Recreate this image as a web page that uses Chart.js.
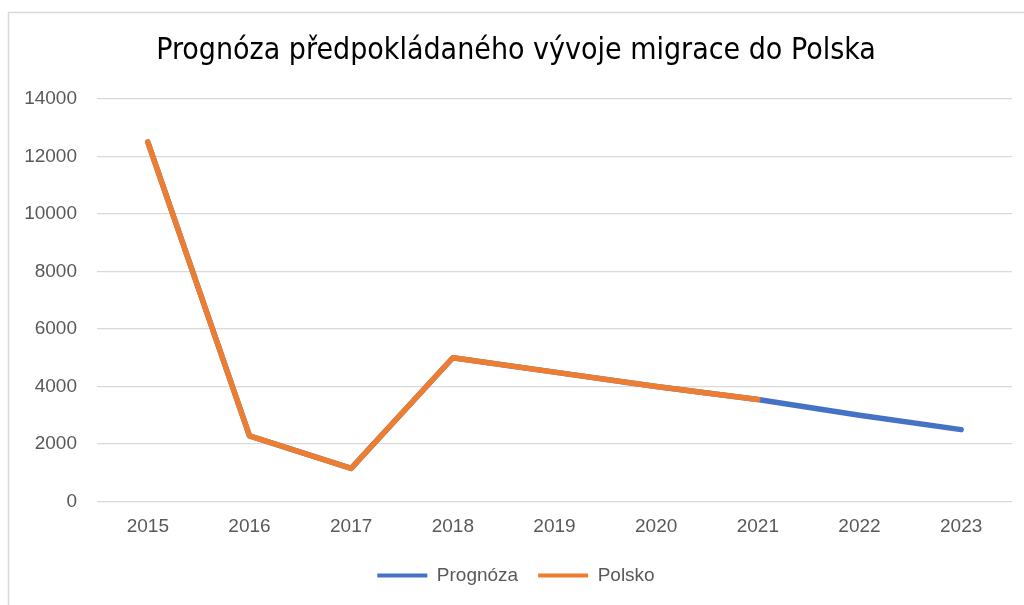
<!DOCTYPE html>
<html>
<head>
<meta charset="utf-8">
<script src="https://cdn.jsdelivr.net/npm/chart.js@4"></script>
<style>
  html, body { margin: 0; padding: 0; background: #ffffff; }
  #wrap { width: 1024px; height: 605px; position: relative; }
  canvas { display: block; }
</style>
</head>
<body>
<div id="wrap"><canvas id="c" width="1024" height="605"></canvas></div>
<script>
const titleText = 'Prognóza předpokládaného vývoje migrace do Polska';
const years = ['2015', '2016', '2017', '2018', '2019', '2020', '2021', '2022', '2023'];
const prognozaValues = [12500, 2280, 1150, 5000, 4500, 4000, 3550, 3000, 2500];
const polskoValues = [12500, 2280, 1150, 5000, 4500, 4000, 3550];
const yTicks = [0, 2000, 4000, 6000, 8000, 10000, 12000, 14000];
const seriesNames = ['Prognóza', 'Polsko'];

const frame = {
  id: 'frame',
  beforeDraw(chart) {
    const ctx = chart.ctx;
    ctx.save();
    ctx.fillStyle = '#ffffff';
    ctx.fillRect(0, 0, chart.width, chart.height);
    ctx.strokeStyle = '#d9d9d9';
    ctx.lineWidth = 1.5;
    ctx.strokeRect(8.5, 12.5, chart.width + 20, chart.height + 20);
    ctx.restore();
  }
};

const FONT = "'Liberation Sans', 'Open Sans', sans-serif";

new Chart(document.getElementById('c'), {
  type: 'line',
  data: {
    labels: years,
    datasets: [
      {
        label: seriesNames[0],
        data: prognozaValues,
        borderColor: '#4472C4',
        backgroundColor: '#4472C4',
        borderWidth: 5.5,
        pointRadius: 0,
        borderJoinStyle: 'round',
        borderCapStyle: 'round',
        tension: 0,
        order: 1
      },
      {
        label: seriesNames[1],
        data: polskoValues,
        borderColor: '#ED7D31',
        backgroundColor: '#ED7D31',
        borderWidth: 5.5,
        pointRadius: 0,
        borderJoinStyle: 'round',
        borderCapStyle: 'round',
        tension: 0,
        order: 0
      }
    ]
  },
  options: {
    responsive: false,
    animation: false,
    devicePixelRatio: 1,
    layout: { padding: { top: 12, left: 20, right: 12, bottom: 10 } },
    plugins: {
      title: {
        display: true,
        text: titleText,
        color: '#000000',
        font: { family: "'DejaVu Sans Condensed', 'DejaVu Sans', sans-serif", size: 30, weight: 'normal', lineHeight: 1.2 },
        padding: { top: 21.6, bottom: 29.4 }
      },
      legend: {
        display: true,
        position: 'bottom',
        labels: {
          color: '#595959',
          font: { family: FONT, size: 19 },
          boxWidth: 50,
          boxHeight: 4,
          padding: 20,
          sort: (a, b) => a.datasetIndex - b.datasetIndex,
          generateLabels(chart) {
            const items = Chart.defaults.plugins.legend.labels.generateLabels(chart);
            return items.map(it => Object.assign(it, { lineWidth: 0 }));
          }
        }
      },
      tooltip: { enabled: false }
    },
    scales: {
      x: {
        type: 'category',
        offset: true,
        grid: { display: false, drawTicks: false },
        border: { display: false },
        ticks: { color: '#595959', font: { family: FONT, size: 19 }, padding: 14, maxRotation: 0 },
        afterFit(scale) { scale.height = 44.5; }
      },
      y: {
        min: 0,
        max: 14000,
        afterBuildTicks(scale) { scale.ticks = yTicks.map(v => ({ value: v })); },
        grid: { color: '#d9d9d9', lineWidth: 1.3, drawTicks: false },
        border: { display: false },
        ticks: {
          color: '#595959',
          font: { family: FONT, size: 19 },
          padding: 20,
          callback: (v) => String(v)
        },
        afterFit(scale) { scale.width = 77; }
      }
    }
  },
  plugins: [frame]
});
</script>
</body>
</html>
